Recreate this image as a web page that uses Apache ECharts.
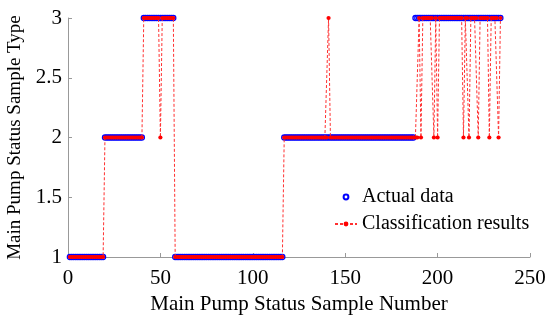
<!DOCTYPE html>
<html>
<head>
<meta charset="utf-8">
<script src="https://cdn.jsdelivr.net/npm/echarts@6/dist/echarts.min.js"></script>
<style>html,body{margin:0;padding:0;background:#fff}#chart{width:550px;height:320px}</style>
</head>
<body>
<div id="chart"></div>
<script>
// Actual data: run-length encoded levels (sample numbers start at 1)
var actualLevels = [1, 2, 3, 1, 2, 3];
var actualRunLengths = [19, 21, 17, 59, 71, 47];
// Misclassified samples and their predicted type
var errorSamples = [50, 141, 188, 189, 191, 198, 200, 214, 217, 222, 228, 233];
var errorValues  = [2, 3, 2, 2, 2, 2, 2, 2, 2, 2, 2, 2];
var xTicks = [0, 50, 100, 150, 200, 250];
var yTicks = [1, 1.5, 2, 2.5, 3];

var actual = [];
var n = 1;
for (var i = 0; i < actualLevels.length; i++) {
  for (var k = 0; k < actualRunLengths[i]; k++) { actual.push([n, actualLevels[i]]); n++; }
}
var predicted = actual.map(function (p) {
  var idx = errorSamples.indexOf(p[0]);
  return [p[0], idx >= 0 ? errorValues[idx] : p[1]];
});

var font = 'Liberation Serif, Times New Roman, serif';
var chart = echarts.init(document.getElementById('chart'));
chart.setOption({
  animation: false,
  grid: {left: 68, right: 20, top: 18, bottom: 63, containLabel: false, outerBoundsMode: 'none'},
  legend: {
    orient: 'vertical', left: 334, top: 187, padding: 0, itemGap: 7, itemWidth: 22, itemHeight: 6,
    textStyle: {fontFamily: font, fontSize: 20, color: '#000'},
    data: ['Actual data', 'Classification results']
  },
  xAxis: {
    type: 'value', min: xTicks[0], max: xTicks[xTicks.length - 1], interval: 50,
    name: 'Main Pump Status Sample Number', nameLocation: 'middle', nameGap: 26,
    nameTextStyle: {fontFamily: font, fontSize: 21, color: '#000'},
    axisLine: {lineStyle: {color: '#999', width: 1}},
    axisTick: {inside: true, length: 4, lineStyle: {color: '#999'}},
    axisLabel: {fontFamily: font, fontSize: 21, color: '#000', margin: 11},
    splitLine: {show: false}
  },
  yAxis: {
    type: 'value', min: yTicks[0], max: yTicks[yTicks.length - 1], interval: 0.5,
    name: 'Main Pump Status Sample Type', nameLocation: 'middle', nameGap: 43,
    nameTextStyle: {fontFamily: font, fontSize: 19, color: '#000'},
    axisLine: {show: true, lineStyle: {color: '#999', width: 1}},
    axisTick: {show: true, inside: true, length: 4, lineStyle: {color: '#999'}},
    axisLabel: {fontFamily: font, fontSize: 21, color: '#000', margin: 6},
    splitLine: {show: false}
  },
  series: [
    {
      name: 'Actual data', type: 'line', data: actual, clip: false,
      lineStyle: {width: 0, opacity: 0},
      symbol: 'circle', symbolSize: 5, showAllSymbol: true,
      itemStyle: {color: '#fff', borderColor: '#0000ff', borderWidth: 1.3},
      z: 2
    },
    {
      name: 'Classification results', type: 'line', data: predicted, clip: false,
      lineStyle: {color: '#ff3030', width: 1, type: [3, 2]},
      symbol: 'circle', symbolSize: 4.2, showAllSymbol: true,
      itemStyle: {color: '#ff0000', borderWidth: 0},
      z: 3
    }
  ]
});
</script>
</body>
</html>
